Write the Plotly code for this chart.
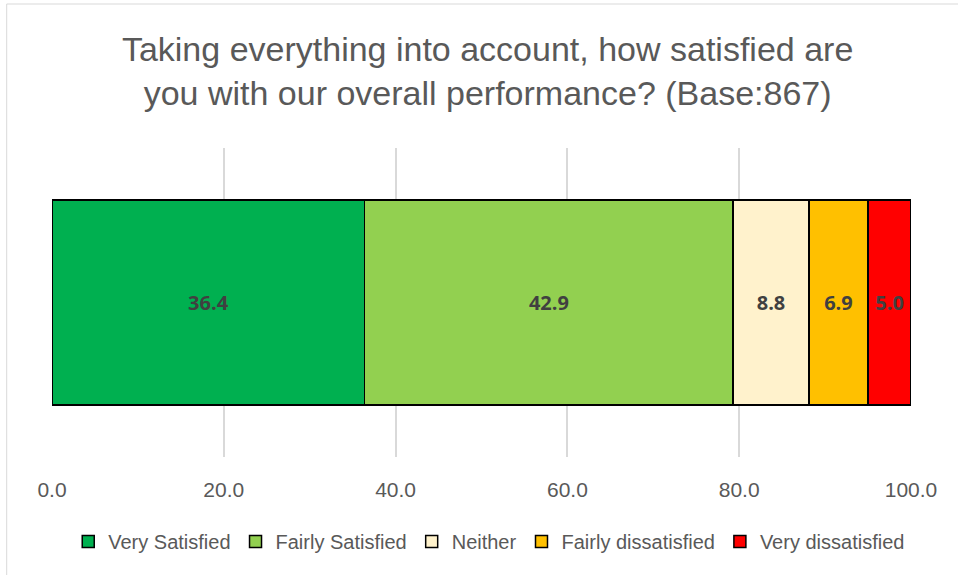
import plotly.graph_objects as go

categories = ["Overall"]
series_names = ["Very Satisfied", "Fairly Satisfied", "Neither", "Fairly dissatisfied", "Very dissatisfied"]
series_values = [36.4, 42.9, 8.8, 6.9, 5.0]
series_colors = ["#00B050", "#92D050", "#FFF2CC", "#FFC000", "#FF0000"]
tick_values = [0, 20, 40, 60, 80, 100]
tick_labels = ["0.0", "20.0", "40.0", "60.0", "80.0", "100.0"]
title_text = "Taking everything into account, how satisfied are<br>you with our overall performance? (Base:867)"

FONT = "Liberation Sans, Arial, sans-serif"

fig = go.Figure()
for name, val, col in zip(series_names, series_values, series_colors):
    fig.add_trace(go.Bar(
        y=categories, x=[val], name=name, orientation="h",
        marker=dict(color=col, line=dict(color="#000000", width=1.5)),
        text=[f"{val:.1f}"], textposition="inside", insidetextanchor="middle",
        textfont=dict(family="Open Sans, sans-serif", size=20, color="#404040", weight="bold"),
        constraintext="none", cliponaxis=False,
    ))

fig.update_layout(
    barmode="stack",
    bargap=0.337,
    width=958, height=575,
    margin=dict(l=52, r=47, t=148, b=118),
    paper_bgcolor="white", plot_bgcolor="white",
    font=dict(family=FONT, color="#595959"),
    title=dict(text=title_text, x=0.509, xanchor="center", y=0.894, yanchor="middle",
               font=dict(family=FONT, size=34, color="#595959")),
    legend=dict(orientation="h", x=0.509, xanchor="center", y=-0.21, yanchor="top",
                font=dict(family=FONT, size=20, color="#595959"),
                traceorder="normal", itemclick=False, tracegroupgap=0,
                itemwidth=30),
    showlegend=True,
    uniformtext=dict(mode=False),
)
fig.update_xaxes(range=[0, 100], tickvals=tick_values, ticktext=tick_labels,
                 showgrid=True, gridcolor="#D9D9D9", gridwidth=1.5,
                 zeroline=False, showline=False, ticks="",
                 tickfont=dict(family=FONT, size=21, color="#595959"),
                 ticklabelstandoff=18)
fig.update_yaxes(showticklabels=False, showgrid=False, zeroline=False, showline=False)

fig.add_shape(type="rect", xref="paper", yref="paper",
              x0=(6.7 - 52) / 859, x1=(965 - 52) / 859,
              y0=(457 - 585) / 309, y1=(457 - 4) / 309,
              line=dict(color="#D9D9D9", width=1), fillcolor="rgba(0,0,0,0)", layer="below")

fig.write_html("out.html", config={"displayModeBar": False},
               post_script="document.body.style.margin='0px';document.body.style.overflow='hidden';")
